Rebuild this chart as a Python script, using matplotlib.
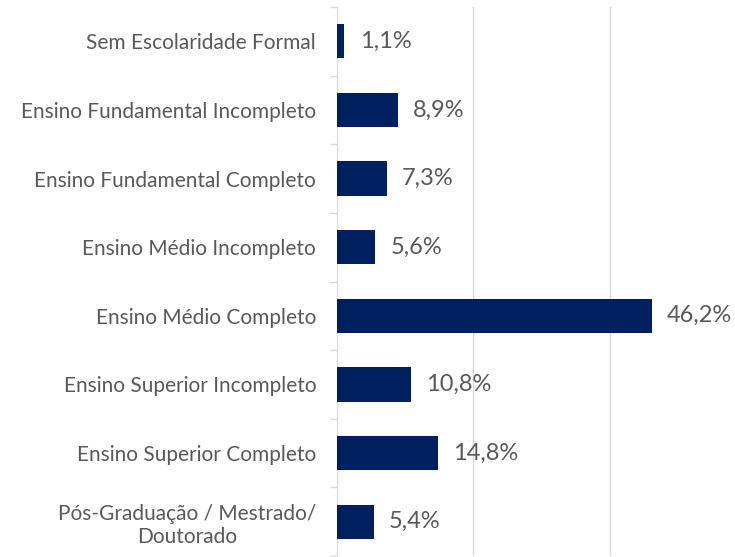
import matplotlib
matplotlib.use("Agg")
import matplotlib.pyplot as plt

categories = [
    "Sem Escolaridade Formal",
    "Ensino Fundamental Incompleto",
    "Ensino Fundamental Completo",
    "Ensino Médio Incompleto",
    "Ensino Médio Completo",
    "Ensino Superior Incompleto",
    "Ensino Superior Completo",
    "Pós-Graduação / Mestrado/\nDoutorado",
]
values = [1.1, 8.9, 7.3, 5.6, 46.2, 10.8, 14.8, 5.4]

BAR_COLOR = "#002060"
TEXT_COLOR = "#595959"
GRID_COLOR = "#d9d9d9"

plt.rcParams["font.family"] = ["Lato", "DejaVu Sans"]

fig = plt.figure(figsize=(7.35, 5.57), dpi=100)
ax = fig.add_axes([337 / 735, 1 / 557, 398 / 735, 549 / 557])

y = list(range(len(categories)))
ax.barh(y, values, height=0.5, color=BAR_COLOR, zorder=3)

for yi, v in zip(y, values):
    ax.annotate(f"{v:.1f}%".replace(".", ","), xy=(v, yi), xytext=(11, 0),
                textcoords="offset points", va="center", ha="left",
                color=TEXT_COLOR, fontsize=17)

ax.set_ylim(len(categories) - 0.5, -0.5)
ax.set_xlim(0, 58.4)
ax.set_xticks([0, 20, 40])
ax.xaxis.grid(True, color=GRID_COLOR, linewidth=1, zorder=0)
ax.tick_params(axis="x", length=0, labelbottom=False)

ax.set_yticks(y)
ax.set_yticklabels(categories, color=TEXT_COLOR, fontsize=15,
                   ha="right", multialignment="center")
ax.tick_params(axis="y", length=0, pad=15)
ax.set_yticks([i - 0.5 for i in range(len(categories) + 1)], minor=True)
ax.tick_params(axis="y", which="minor", length=5, color=GRID_COLOR, width=1)

for s in ["top", "right", "bottom"]:
    ax.spines[s].set_visible(False)
ax.spines["left"].set_color(GRID_COLOR)

fig.savefig("out.png", dpi=100)
